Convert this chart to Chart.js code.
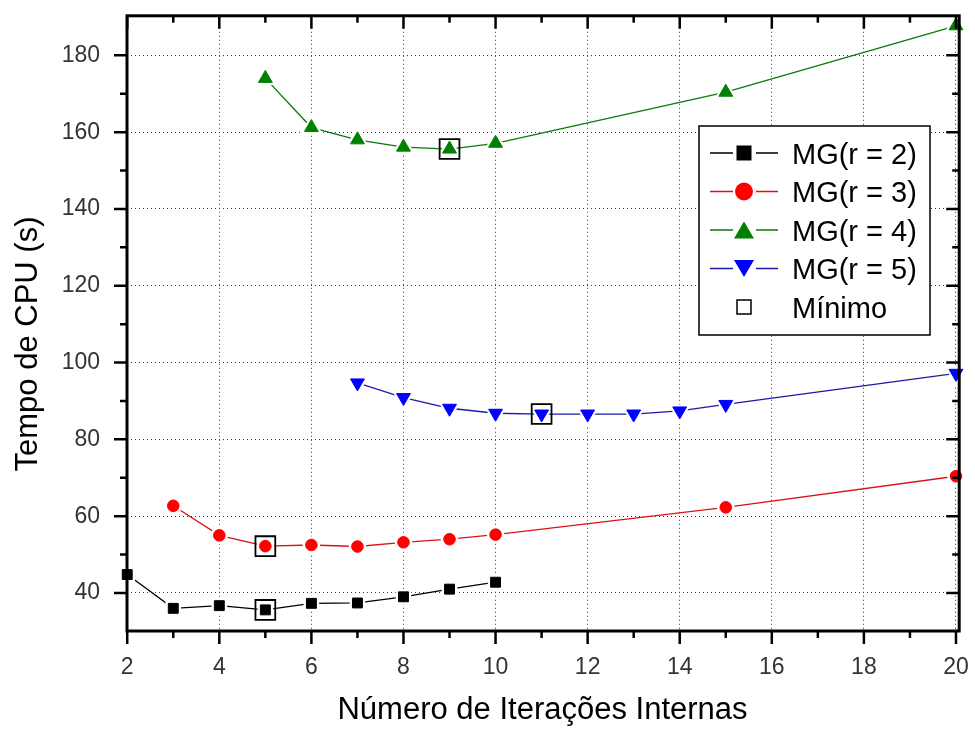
<!DOCTYPE html>
<html><head><meta charset="utf-8">
<script src="https://cdn.jsdelivr.net/npm/chart.js@4.4.1/dist/chart.umd.min.js"></script>
<style>html,body{margin:0;padding:0;background:#fff;}canvas{display:block;}</style>
</head><body>
<canvas id="c" width="975" height="729"></canvas>
<script>
// ---- data ----
const xTicks = [2,4,6,8,10,12,14,16,18,20];
const xMinorTicks = [3,5,7,9,11,13,15,17,19];
const yTicks = [40,60,80,100,120,140,160,180];
const yMinorTicks = [50,70,90,110,130,150,170];

const itersR2 = [2,3,4,5,6,7,8,9,10];
const timeR2  = [44.8,36.0,36.7,35.6,37.3,37.4,39.0,41.0,42.8];
const itersR3 = [3,4,5,6,7,8,9,10,15,20];
const timeR3  = [62.7,55.0,52.2,52.5,52.1,53.2,54.0,55.2,62.3,70.4];
const itersR4 = [5,6,7,8,9,10,15,20];
const timeR4  = [174.0,161.2,158.0,156.1,155.6,157.1,170.4,187.7];
const itersR5 = [7,8,9,10,11,12,13,14,15,20];
const timeR5  = [94.7,90.9,88.1,86.8,86.6,86.6,86.6,87.4,89.1,97.2];
const minIters = [5,5,9,11];
const minTimes = [35.6,52.2,155.6,86.6];

const seriesLabels = ['MG(r = 2)','MG(r = 3)','MG(r = 4)','MG(r = 5)','Mínimo'];
const xTitle = 'Número de Iterações Internas';
const yTitle = 'Tempo de CPU (s)';

// ---- styles ----
const FONT = "'Liberation Sans', Arial, Helvetica, sans-serif";
function mk(xs, ys){ return xs.map((x,i)=>({x:x, y:ys[i]})); }

const series = [
  {label:seriesLabels[0], data:mk(itersR2,timeR2), line:'#000000', fill:'#000000', style:'rect',     r:7,   rot:0,   halo:4, lg:{shape:'square', w:15, h:15}},
  {label:seriesLabels[1], data:mk(itersR3,timeR3), line:'#dd1111', fill:'#ff0000', style:'circle',   r:5.8, rot:0,   halo:3, lg:{shape:'circle', w:18, h:18}},
  {label:seriesLabels[2], data:mk(itersR4,timeR4), line:'#0a7a0a', fill:'#008000', style:'triangle', r:8,   rot:0,   halo:5, lg:{shape:'up',     w:20, h:17}},
  {label:seriesLabels[3], data:mk(itersR5,timeR5), line:'#1a1aa8', fill:'#0000ff', style:'triangle', r:8,   rot:180, halo:5, lg:{shape:'down',   w:20, h:17}}
];

const datasets = [];
series.forEach(s=>{
  datasets.push({label:s.label, data:s.data, showLine:true, borderColor:s.line, borderWidth:1.3,
    pointRadius:0, pointHoverRadius:0, pointHitRadius:0, order:30, clip:false});
  datasets.push({label:s.label+' halo', data:s.data, showLine:false, pointStyle:s.style, pointRotation:s.rot,
    pointRadius:s.r+s.halo, pointHoverRadius:s.r+s.halo, pointBackgroundColor:'#ffffff', pointBorderColor:'#ffffff',
    pointBorderWidth:0, order:20, clip:false});
  datasets.push({label:s.label+' marker', data:s.data, showLine:false, pointStyle:s.style, pointRotation:s.rot,
    pointRadius:s.r, pointHoverRadius:s.r, pointBackgroundColor:s.fill, pointBorderColor:s.fill,
    pointBorderWidth:1, order:10, clip:false});
});
datasets.push({label:seriesLabels[4], data:mk(minIters,minTimes), showLine:false, pointStyle:'rect',
  pointRadius:14, pointHoverRadius:14, pointBackgroundColor:'rgba(0,0,0,0)', pointBorderColor:'#000000',
  pointBorderWidth:1.8, order:0, clip:false});

// ---- helpers ----
function shape(ctx, kind, x, y, w, h, fill, stroke, lw){
  ctx.beginPath();
  if (kind==='square' || kind==='open') ctx.rect(x-w/2, y-h/2, w, h);
  else if (kind==='circle') ctx.arc(x, y, w/2, 0, Math.PI*2);
  else if (kind==='up'){ ctx.moveTo(x, y-h/2); ctx.lineTo(x+w/2, y+h/2); ctx.lineTo(x-w/2, y+h/2); ctx.closePath(); }
  else if (kind==='down'){ ctx.moveTo(x, y+h/2); ctx.lineTo(x+w/2, y-h/2); ctx.lineTo(x-w/2, y-h/2); ctx.closePath(); }
  if (fill){ ctx.fillStyle = fill; ctx.fill(); }
  if (stroke){ ctx.strokeStyle = stroke; ctx.lineWidth = lw; ctx.stroke(); }
}

const decor = {
  id:'decor',
  afterDatasetsDraw(chart){
    const {ctx, chartArea:a, scales} = chart; const x = scales.x, y = scales.y;
    ctx.save();
    ctx.strokeStyle = '#000'; ctx.lineWidth = 2.5; ctx.lineCap = 'butt';
    ctx.beginPath();
    const MAJ = 13, MIN = 7;
    xTicks.forEach(v=>{ const p = x.getPixelForValue(v);
      ctx.moveTo(p, a.bottom); ctx.lineTo(p, a.bottom+MAJ); ctx.moveTo(p, a.top); ctx.lineTo(p, a.top+MAJ); });
    xMinorTicks.forEach(v=>{ const p = x.getPixelForValue(v);
      ctx.moveTo(p, a.bottom); ctx.lineTo(p, a.bottom+MIN); ctx.moveTo(p, a.top); ctx.lineTo(p, a.top+MIN); });
    yTicks.forEach(v=>{ const p = y.getPixelForValue(v);
      ctx.moveTo(a.left-MAJ, p); ctx.lineTo(a.left, p); ctx.moveTo(a.right-MAJ, p); ctx.lineTo(a.right, p); });
    yMinorTicks.forEach(v=>{ const p = y.getPixelForValue(v);
      ctx.moveTo(a.left-MIN, p); ctx.lineTo(a.left, p); ctx.moveTo(a.right-MIN, p); ctx.lineTo(a.right, p); });
    ctx.stroke();
    ctx.lineWidth = 3;
    ctx.strokeRect(a.left, a.top, a.right-a.left, a.bottom-a.top);
    ctx.restore();
  },
  afterDraw(chart){
    const ctx = chart.ctx;
    ctx.save();
    // axis titles
    ctx.fillStyle = '#000'; ctx.textBaseline = 'alphabetic'; ctx.textAlign = 'center';
    ctx.font = '31px ' + FONT;
    ctx.fillText(xTitle, 542.5, 719);
    ctx.save();
    ctx.translate(37, 344); ctx.rotate(-Math.PI/2);
    ctx.fillText(yTitle, 0, 0);
    ctx.restore();

    // legend
    const L = 699, T = 126, W = 231, H = 209;
    ctx.fillStyle = '#fff'; ctx.fillRect(L, T, W, H);
    ctx.strokeStyle = '#000'; ctx.lineWidth = 1.5; ctx.strokeRect(L, T, W, H);
    ctx.font = '29px ' + FONT; ctx.textAlign = 'left';
    const rowY = [153, 191.5, 230, 268.5, 307];
    const mx = 744;
    series.forEach((s,i)=>{
      const cy = rowY[i];
      ctx.strokeStyle = s.line; ctx.lineWidth = 1.3;
      ctx.beginPath(); ctx.moveTo(710, cy); ctx.lineTo(733, cy); ctx.moveTo(756, cy); ctx.lineTo(778, cy); ctx.stroke();
      shape(ctx, s.lg.shape, mx, cy, s.lg.w, s.lg.h, s.fill, null, 0);
      ctx.fillStyle = '#000';
      ctx.fillText(s.label, 792, cy+10.5);
    });
    shape(ctx, 'open', mx, rowY[4], 14, 14, null, '#000', 1.5);
    ctx.fillStyle = '#000';
    ctx.fillText(seriesLabels[4], 792, rowY[4]+10.5);
    ctx.restore();
  }
};

new Chart(document.getElementById('c'), {
  type:'scatter',
  data:{datasets:datasets},
  options:{
    responsive:false, animation:false, devicePixelRatio:1, events:[],
    layout:{padding:{top:14, right:15, left:0, bottom:0}},
    plugins:{legend:{display:false}, tooltip:{enabled:false}, title:{display:false}},
    scales:{
      x:{type:'linear', position:'bottom', min:1.995, max:20.07,
        afterBuildTicks:s=>{ s.ticks = xTicks.map(v=>({value:v})); },
        afterFit:s=>{ s.height = 98; s.paddingLeft = 0; s.paddingRight = 0; },
        ticks:{autoSkip:false, maxRotation:0, padding:23, color:'#333', font:{family:FONT, size:23}},
        grid:{color:'#3a3a3a', lineWidth:1, drawTicks:false},
        border:{display:false, dash:[1,3]},
        title:{display:false}},
      y:{type:'linear', position:'left', min:30.1, max:190.3,
        afterBuildTicks:s=>{ s.ticks = yTicks.map(v=>({value:v})); },
        afterFit:s=>{ s.width = 127; s.paddingTop = 0; s.paddingBottom = 0; },
        ticks:{autoSkip:false, padding:27, color:'#333', font:{family:FONT, size:23}},
        grid:{color:'#3a3a3a', lineWidth:1, drawTicks:false},
        border:{display:false, dash:[1,3]},
        title:{display:false}}
    }
  },
  plugins:[decor]
});
</script>
</body></html>
